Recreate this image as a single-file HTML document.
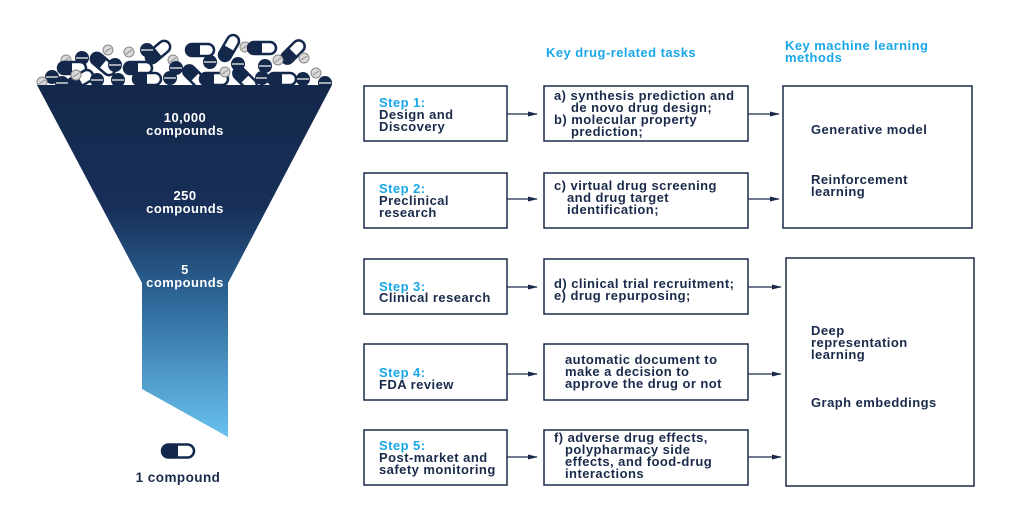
<!DOCTYPE html>
<html><head><meta charset="utf-8"><style>
html,body{margin:0;padding:0;background:#fff;}
svg{display:block;}
text{font-family:"Liberation Sans",sans-serif;font-weight:bold;letter-spacing:0.45px;}
</style></head><body>
<svg width="1024" height="514" viewBox="0 0 1024 514" xmlns="http://www.w3.org/2000/svg">
<defs>
<linearGradient id="fg" x1="0" y1="85" x2="0" y2="437" gradientUnits="userSpaceOnUse">
<stop offset="0" stop-color="#14284b"/>
<stop offset="0.35" stop-color="#172f58"/>
<stop offset="0.6" stop-color="#2c6596"/>
<stop offset="1" stop-color="#68c1ee"/>
</linearGradient>
<g id="cap"><rect x="-14" y="-6" width="28" height="12" rx="6" fill="#fff" stroke="#14284b" stroke-width="2.5"/><path d="M0,-6 H-8 A6,6 0 0 0 -8,6 H0 Z" fill="#14284b"/></g>
<g id="dot"><circle r="7" fill="#14284b"/><line x1="-6" y1="0" x2="6" y2="0" stroke="#fff" stroke-width="1.2"/></g>
<g id="gr"><circle r="5" fill="#d8d8d8" stroke="#8a8a8a" stroke-width="1"/><line x1="-3" y1="2" x2="3" y2="-2" stroke="#8a8a8a" stroke-width="1"/></g>
<marker id="ar" markerWidth="10" markerHeight="8" refX="9" refY="4" orient="auto" markerUnits="userSpaceOnUse"><path d="M0,1.5 L10,4 L0,6.5 Z" fill="#1a2a4a"/></marker>
</defs>

<g>
<use href="#gr" x="66" y="60"/><use href="#dot" x="82" y="58"/><use href="#cap" transform="translate(72,68) rotate(0)"/>
<use href="#cap" transform="translate(103,64) rotate(40)"/><use href="#gr" x="108" y="50"/><use href="#dot" x="115" y="65"/>
<use href="#cap" transform="translate(138,68) rotate(0)"/><use href="#gr" x="129" y="52"/><use href="#cap" transform="translate(158,52) rotate(-40)"/>
<use href="#dot" x="147" y="50"/><use href="#gr" x="173" y="60"/><use href="#cap" transform="translate(200,50) rotate(0)"/>
<use href="#cap" transform="translate(229,48) rotate(-60)"/><use href="#gr" x="245" y="47"/><use href="#dot" x="210" y="62"/>
<use href="#dot" x="238" y="64"/><use href="#cap" transform="translate(262,48) rotate(0)"/><use href="#cap" transform="translate(293,52) rotate(-45)"/>
<use href="#gr" x="278" y="60"/><use href="#dot" x="265" y="66"/><use href="#gr" x="304" y="58"/>
<use href="#dot" x="52" y="77"/><use href="#cap" transform="translate(80,80) rotate(-30)"/><use href="#gr" x="42" y="82"/>
<use href="#gr" x="76" y="75"/><use href="#dot" x="97" y="80"/><use href="#dot" x="118" y="80"/>
<use href="#cap" transform="translate(147,79) rotate(0)"/><use href="#dot" x="170" y="78"/><use href="#cap" transform="translate(195,77) rotate(45)"/>
<use href="#dot" x="176" y="68"/><use href="#cap" transform="translate(214,79) rotate(0)"/><use href="#gr" x="225" y="72"/>
<use href="#cap" transform="translate(245,79) rotate(45)"/><use href="#dot" x="262" y="78"/><use href="#cap" transform="translate(282,79) rotate(0)"/>
<use href="#dot" x="303" y="79"/><use href="#gr" x="316" y="73"/><use href="#dot" x="325" y="83"/><use href="#dot" x="62" y="83"/>
</g>

<path d="M37,85 L332,85 L228,283 L228,437 L142,389 L142,283 Z" fill="url(#fg)"/>
<g fill="#fff" font-size="13" text-anchor="middle">
<text x="185" y="122">10,000</text><text x="185" y="135">compounds</text>
<text x="185" y="200">250</text><text x="185" y="213">compounds</text>
<text x="185" y="274">5</text><text x="185" y="287">compounds</text>
</g>
<g transform="translate(178,451)"><rect x="-16" y="-6.5" width="32" height="13" rx="6.5" fill="#fff" stroke="#14284b" stroke-width="2.5"/><path d="M0,-6.5 H-9.5 A6.5,6.5 0 0 0 -9.5,6.5 H0 Z" fill="#14284b"/></g>
<text x="178" y="482" font-size="13.5" fill="#1a2a4a" text-anchor="middle">1 compound</text>

<text x="546" y="57" font-size="13" fill="#1aa7e8">Key drug-related tasks</text>
<text x="785" y="50" font-size="13" fill="#1aa7e8">Key machine learning</text>
<text x="785" y="62" font-size="13" fill="#1aa7e8">methods</text>

<g fill="none" stroke="#1a2a4a" stroke-width="1.5">
<rect x="364" y="86" width="143" height="55"/>
<rect x="364" y="173" width="143" height="55"/>
<rect x="364" y="259" width="143" height="55"/>
<rect x="364" y="344" width="143" height="56"/>
<rect x="364" y="430" width="143" height="55"/>
<rect x="544" y="86" width="204" height="55"/>
<rect x="544" y="173" width="204" height="55"/>
<rect x="544" y="259" width="204" height="55"/>
<rect x="544" y="344" width="204" height="56"/>
<rect x="544" y="430" width="204" height="55"/>
<rect x="783" y="86" width="189" height="142"/>
<rect x="786" y="258" width="188" height="228"/>
</g>
<g stroke="#1a2a4a" stroke-width="1.2" marker-end="url(#ar)">
<line x1="507" y1="114" x2="537" y2="114"/><line x1="748" y1="114" x2="779" y2="114"/>
<line x1="507" y1="199" x2="537" y2="199"/><line x1="748" y1="199" x2="779" y2="199"/>
<line x1="507" y1="287" x2="537" y2="287"/><line x1="748" y1="287" x2="781" y2="287"/>
<line x1="507" y1="374" x2="537" y2="374"/><line x1="748" y1="374" x2="781" y2="374"/>
<line x1="507" y1="457" x2="537" y2="457"/><line x1="748" y1="457" x2="781" y2="457"/>
</g>

<g font-size="13" fill="#1a2a4a">
<text x="379" y="107" fill="#1aa7e8">Step 1:</text><text x="379" y="119">Design and</text><text x="379" y="131">Discovery</text>
<text x="379" y="193" fill="#1aa7e8">Step 2:</text><text x="379" y="205">Preclinical</text><text x="379" y="217">research</text>
<text x="379" y="291" fill="#1aa7e8">Step 3:</text><text x="379" y="302">Clinical research</text>
<text x="379" y="377" fill="#1aa7e8">Step 4:</text><text x="379" y="389">FDA review</text>
<text x="379" y="450" fill="#1aa7e8">Step 5:</text><text x="379" y="462">Post-market and</text><text x="379" y="474">safety monitoring</text>

<text x="554" y="100">a) synthesis prediction and</text><text x="571" y="112">de novo drug design;</text>
<text x="554" y="124">b) molecular property</text><text x="571" y="136">prediction;</text>
<text x="554" y="190">c) virtual drug screening</text><text x="567" y="202">and drug target</text><text x="567" y="214">identification;</text>
<text x="554" y="288">d) clinical trial recruitment;</text><text x="554" y="300">e) drug repurposing;</text>
<text x="565" y="364">automatic document to</text><text x="565" y="376">make a decision to</text><text x="565" y="388">approve the drug or not</text>
<text x="554" y="442">f) adverse drug effects,</text><text x="565" y="454">polypharmacy side</text><text x="565" y="466">effects, and food-drug</text><text x="565" y="478">interactions</text>

<text x="811" y="134">Generative model</text>
<text x="811" y="184">Reinforcement</text><text x="811" y="196">learning</text>
<text x="811" y="335">Deep</text><text x="811" y="347">representation</text><text x="811" y="359">learning</text>
<text x="811" y="407">Graph embeddings</text>
</g>
</svg>
</body></html>
